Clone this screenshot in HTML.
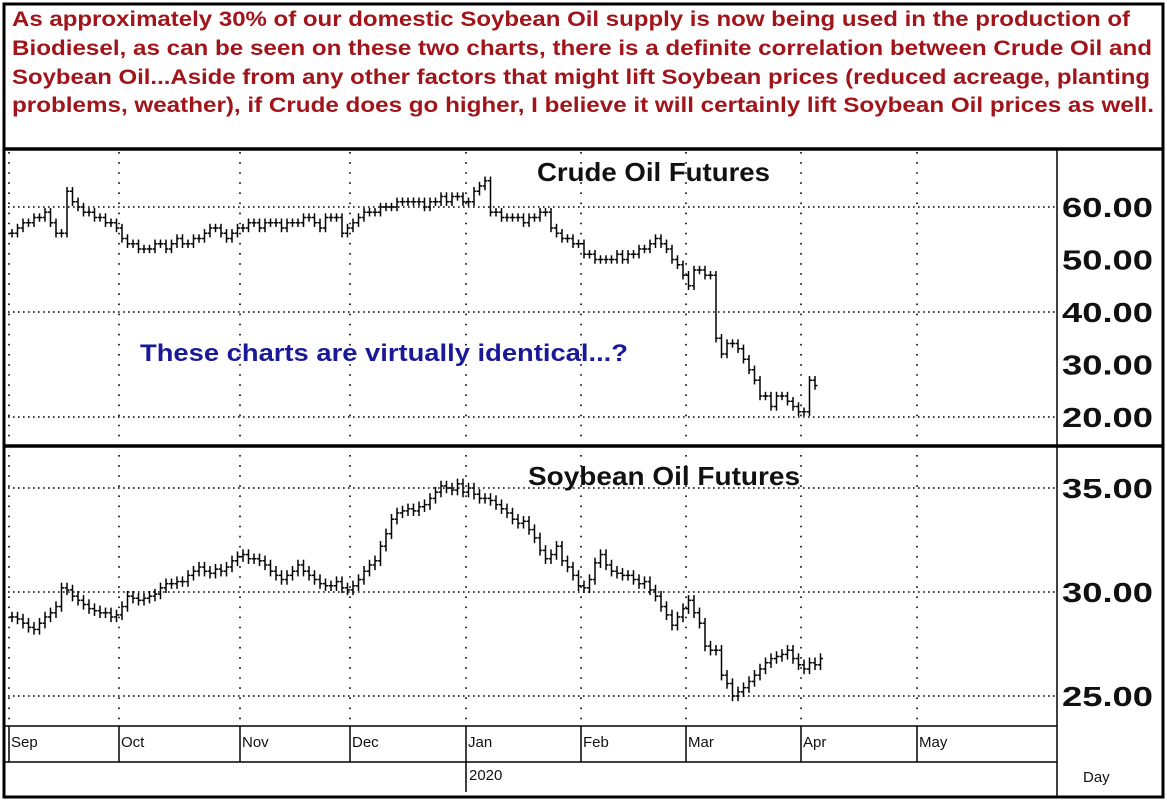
<!DOCTYPE html>
<html><head><meta charset="utf-8"><style>
html,body{margin:0;padding:0;background:#fff;}
svg{display:block;font-family:"Liberation Sans",Arial,sans-serif;}
</style></head><body>
<svg id="c" width="1167" height="810" viewBox="0 0 1167 810">
<rect x="0" y="0" width="1167" height="810" fill="#fff"/>
<g font-weight="bold" font-size="21" fill="#a0141a">
<text x="12" y="26" textLength="1118" lengthAdjust="spacingAndGlyphs">As approximately 30% of our domestic Soybean Oil supply is now being used in the production of</text>
<text x="12" y="55" textLength="1140" lengthAdjust="spacingAndGlyphs">Biodiesel, as can be seen on these two charts, there is a definite correlation between Crude Oil and</text>
<text x="12" y="84" textLength="1138" lengthAdjust="spacingAndGlyphs">Soybean Oil...Aside from any other factors that might lift Soybean prices (reduced acreage, planting</text>
<text x="12" y="112" textLength="1142" lengthAdjust="spacingAndGlyphs">problems, weather), if Crude does go higher, I believe it will certainly lift Soybean Oil prices as well.</text>
</g>
<g id="grid"></g>
<g id="bars"></g>
<text x="537" y="181" font-size="26" font-weight="bold" fill="#111" textLength="233" lengthAdjust="spacingAndGlyphs">Crude Oil Futures</text>
<text x="528" y="485" font-size="26" font-weight="bold" fill="#111" textLength="272" lengthAdjust="spacingAndGlyphs">Soybean Oil Futures</text>
<text x="140" y="361" font-size="24" font-weight="bold" fill="#1a1a99" textLength="488" lengthAdjust="spacingAndGlyphs">These charts are virtually identical...?</text>
<g id="axes"></g>
<g fill="none" stroke="#000">
<rect x="4" y="4" width="1159" height="793" stroke-width="3"/>
<line x1="4" y1="149" x2="1163" y2="149" stroke-width="3.5"/>
<line x1="4" y1="446" x2="1163" y2="446" stroke-width="3.5"/>
<line x1="1057" y1="149" x2="1057" y2="797" stroke-width="1.5"/>
<line x1="4" y1="726" x2="1057" y2="726" stroke-width="1.5"/>
<line x1="4" y1="762" x2="1057" y2="762" stroke-width="1.5"/>
</g>
<text x="1083" y="782" font-size="15" fill="#111">Day</text>
<text x="469" y="780" font-size="15" fill="#111">2020</text>
</svg>
<script>
const months=["Sep","Oct","Nov","Dec","Jan","Feb","Mar","Apr","May"];
const monthStartIdx=[0,20,42,62,83,104,123,144,165];
const crudeTicks=[20,30,40,50,60];
const crudeGrid=[20,40,60];
const soyTicks=[25,30,35];
const crude=[55,56,57,57,58,58,59,57,55,55,63,61,60,59,59,58,58,57,57,56,
54,53,53,52,52,52,53,53,52,53,54,53,53,54,54,55,56,56,55,54,55,56,
56,57,57,56,57,57,57,56,57,57,57,58,58,57,56,58,58,58,55,56,
57,58,59,59,59,60,60,60,61,61,61,61,61,60,61,61,62,61,62,62,61,
61,63,64,65,59,59,58,58,58,58,57,58,58,59,59,56,55,54,54,53,53,
51,51,50,50,50,50,51,50,51,51,52,52,53,54,53,52,50,49,47,
45,48,48,47,47,35,32,34,34,33,31,29,27,24,24,22,24,24,23,22,21,
21,27,26];
const soy=[28.8,28.7,28.5,28.3,28.2,28.5,28.8,29.0,29.3,30.2,30.1,29.8,29.6,29.4,29.2,29.1,29.0,29.0,28.8,28.9,
29.3,29.8,29.7,29.6,29.7,29.8,29.9,30.2,30.4,30.4,30.5,30.5,30.8,31.0,31.2,31.0,30.9,31.1,31.0,31.2,31.5,31.7,
31.8,31.6,31.6,31.5,31.3,31.0,30.8,30.6,30.8,31.0,31.3,31.0,30.8,30.6,30.4,30.3,30.3,30.5,30.2,30.1,
30.3,30.6,31.0,31.3,31.5,32.2,32.8,33.5,33.8,33.9,34.0,33.9,34.1,34.2,34.5,34.8,35.1,35.0,34.9,35.2,34.8,
35.0,34.7,34.5,34.5,34.4,34.2,34.0,33.8,33.5,33.3,33.4,33.0,32.6,32.0,31.6,31.8,32.2,31.5,31.2,30.8,30.3,
30.2,30.6,31.4,31.8,31.3,31.0,30.9,30.8,30.8,30.6,30.4,30.5,30.1,29.8,29.3,28.9,28.4,28.8,29.2,
29.6,29.0,28.5,27.4,27.2,27.2,26.0,25.6,25.0,25.2,25.4,25.7,26.0,26.3,26.6,26.8,26.9,27.0,27.2,26.8,26.5,
26.3,26.6,26.5,26.8];
const NS="http://www.w3.org/2000/svg";
const xOf=i=>12+i*5.5;
const yC=v=>207+(60-v)*5.25;
const yS=v=>488+(35-v)*20.8;
function mk(tag,attrs,parent){const e=document.createElementNS(NS,tag);for(const k in attrs)e.setAttribute(k,attrs[k]);parent.appendChild(e);return e;}
const grid=document.getElementById('grid'),bars=document.getElementById('bars'),axes=document.getElementById('axes');
monthStartIdx.forEach((mi,k)=>{
  const x=Math.round(xOf(mi)-3);
  const g=mk('line',{x1:x,y1:152,x2:x,y2:726,stroke:'#000','stroke-width':1.6,'stroke-dasharray':'1.6 8.5'},grid);
  
  
  const s=mk('line',{x1:x,y1:726,x2:x,y2:762,stroke:'#000','stroke-width':1.5},axes);
  
  
  const t=mk('text',{x:x+2,y:747,'font-size':15,fill:'#111'},axes);
  t.textContent=months[k];
  
  
});
const ys=mk('line',{x1:466,y1:762,x2:466,y2:792,stroke:'#000','stroke-width':1.5},axes);


function hline(y){const l=mk('line',{x1:8,y1:y,x2:1057,y2:y,stroke:'#000','stroke-width':1.6,'stroke-dasharray':'1.6 3.4'},grid);

}
crudeGrid.forEach(v=>hline(yC(v)));
soyTicks.forEach(v=>hline(yS(v)));
function label(v,y){const t=mk('text',{x:1062,y:y+10,'font-size':28,'font-weight':'bold',fill:'#111',textLength:91,lengthAdjust:'spacingAndGlyphs'},axes);t.textContent=v.toFixed(2);

}
crudeTicks.forEach(v=>label(v,yC(v)));
soyTicks.forEach(v=>label(v,yS(v)));
function drawSeries(arr,yf,pad,name){
  arr.forEach((c,i)=>{
    const o=i>0?arr[i-1]:c;
    const hi=Math.max(o,c)+pad,lo=Math.min(o,c)-pad;
    const x=xOf(i);
    const g=mk('g',{stroke:'#000','stroke-width':1.5},bars);
    
    
    mk('line',{x1:x,y1:yf(hi),x2:x,y2:yf(lo)},g);
    mk('line',{x1:x-2.5,y1:yf(o),x2:x,y2:yf(o)},g);
    mk('line',{x1:x,y1:yf(c),x2:x+2.5,y2:yf(c)},g);
  });
}
drawSeries(crude,yC,0.8,'crude-bar');
drawSeries(soy,yS,0.25,'soybean-bar');
</script>
</body></html>
